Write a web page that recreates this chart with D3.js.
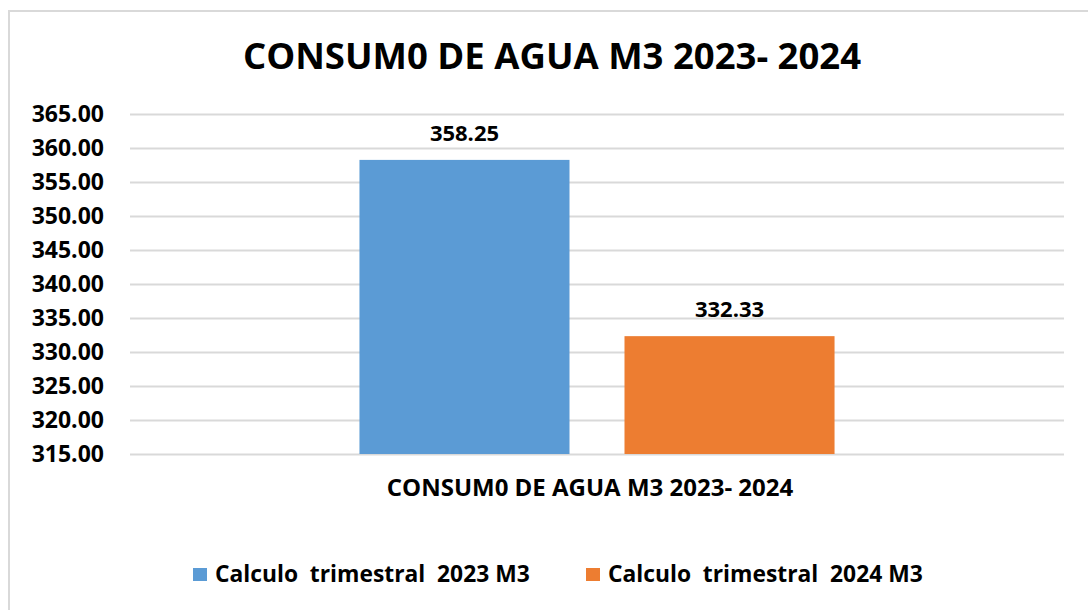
<!DOCTYPE html>
<html>
<head>
<meta charset="utf-8">
<script src="https://cdn.jsdelivr.net/npm/d3@7"></script>
<style>
  body { margin: 0; background: #fff; }
  svg { font-family: "Open Sans", sans-serif; font-weight: bold; }
</style>
</head>
<body>
<svg width="1088" height="610"></svg>
<script>
const title = "CONSUM0 DE AGUA M3 2023- 2024";
const categories = ["CONSUM0 DE AGUA M3 2023- 2024"];
const series = ["Calculo  trimestral  2023 M3", "Calculo  trimestral  2024 M3"];
const values = [358.25, 332.33];
const colors = ["#5B9BD5", "#ED7D31"];
const yTicks = [315, 320, 325, 330, 335, 340, 345, 350, 355, 360, 365];

const svg = d3.select("svg"),
  margin = { top: 114, right: 24, bottom: 156, left: 130 },
  width = +svg.attr("width") - margin.left - margin.right,
  height = +svg.attr("height") - margin.top - margin.bottom;

// chart frame
svg.append("path")
  .attr("d", "M9,610 V11 H1088")
  .attr("fill", "none")
  .attr("stroke", "#d9d9d9")
  .attr("stroke-width", 2);

svg.append("text")
  .attr("x", 552)
  .attr("y", 69)
  .attr("text-anchor", "middle")
  .style("font-size", "36.5px")
  .attr("fill", "#000")
  .text(title);

const g = svg.append("g")
  .attr("transform", `translate(${margin.left},${margin.top})`);

const y = d3.scaleLinear()
  .domain([d3.min(yTicks), d3.max(yTicks)])
  .range([height, 0]);

const x0 = d3.scaleBand()
  .domain(categories)
  .range([0, width])
  .paddingInner(0)
  .paddingOuter(0.483);

const x1 = d3.scaleBand()
  .domain(series)
  .range([0, x0.bandwidth()])
  .paddingInner(0.2075);

// grid + y labels
const yAxis = g.append("g")
  .call(d3.axisLeft(y).tickValues(yTicks).tickFormat(d3.format(".2f"))
    .tickSize(-width).tickPadding(26));
yAxis.select(".domain").remove();
yAxis.selectAll(".tick line").attr("stroke", "#d9d9d9").attr("stroke-width", 2);
yAxis.selectAll(".tick text")
  .attr("fill", "#000")
  .style("font-size", "23px")
  .style("font-family", "'Open Sans', sans-serif")
  .style("font-weight", "bold");

// bars
const grp = g.selectAll(".cat")
  .data(categories)
  .enter().append("g")
  .attr("transform", (d) => `translate(${x0(d)},0)`);

const barData = series.map((s, i) => ({ s, v: values[i], c: colors[i] }));

grp.selectAll("rect")
  .data(barData)
  .enter().append("rect")
  .attr("x", (d) => x1(d.s))
  .attr("y", (d) => y(d.v))
  .attr("width", x1.bandwidth())
  .attr("height", (d) => height - y(d.v))
  .attr("fill", (d) => d.c);

grp.selectAll(".val")
  .data(barData)
  .enter().append("text")
  .attr("class", "val")
  .attr("x", (d) => x1(d.s) + x1.bandwidth() / 2)
  .attr("y", (d) => y(d.v) - 19)
  .attr("text-anchor", "middle")
  .style("font-size", "22px")
  .text((d) => d.v.toFixed(2));

// category label
g.append("text")
  .attr("x", x0(categories[0]) + x0.bandwidth() / 2 - 7)
  .attr("y", height + 42)
  .attr("text-anchor", "middle")
  .style("font-size", "24px")
  .text(categories[0]);

// legend
const legendX = [193, 586];
const leg = svg.append("g");
series.forEach((s, i) => {
  leg.append("rect")
    .attr("x", legendX[i])
    .attr("y", 568)
    .attr("width", 14)
    .attr("height", 13)
    .attr("fill", colors[i]);
  leg.append("text")
    .attr("x", legendX[i] + 22)
    .attr("y", 581.5)
    .style("font-size", "22.8px")
    .style("white-space", "pre")
    .text(s);
});
</script>
</body>
</html>
